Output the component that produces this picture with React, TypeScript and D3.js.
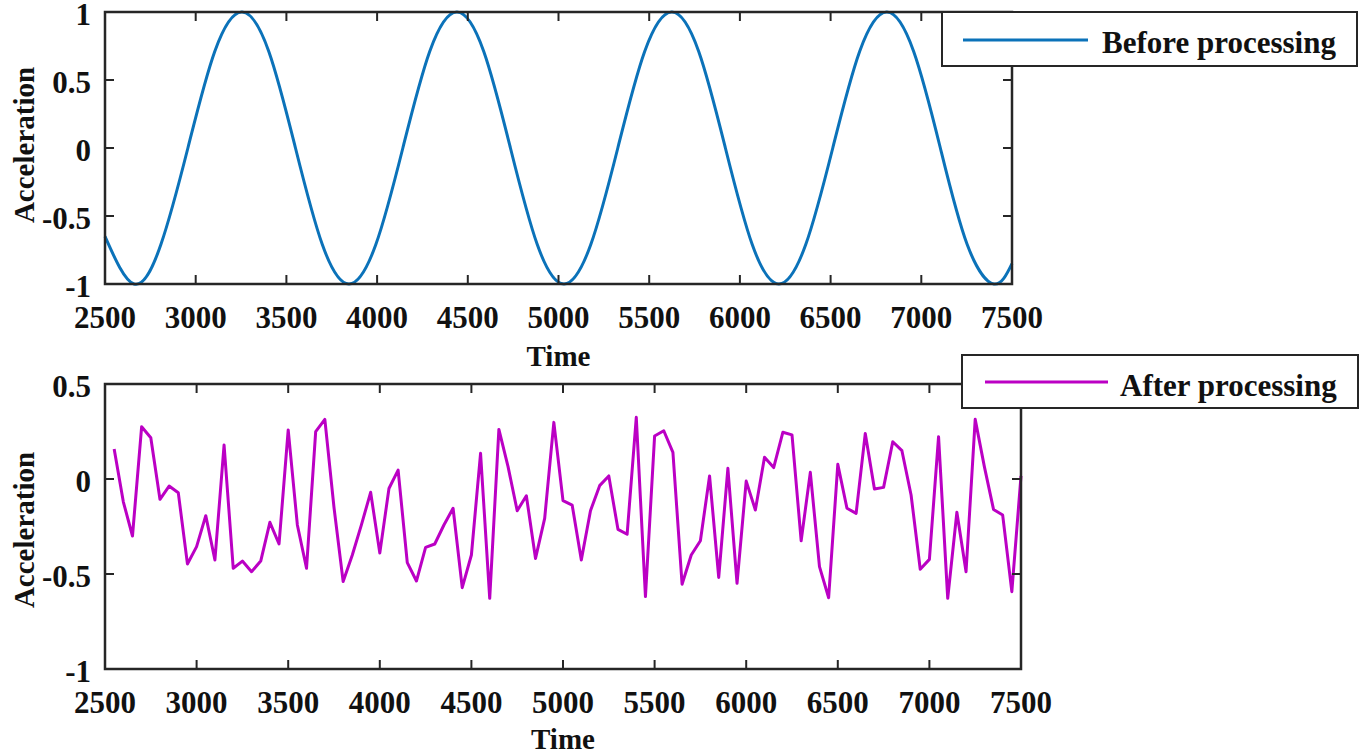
import React from 'react';
import * as d3 from 'd3';

// ---- data ----
const beforeTime = [2500, 2660, 2808, 2957, 3105, 3255, 3403, 3550, 3698, 3845, 3993, 4142, 4290, 4440, 4588, 4735, 4883, 5030, 5178, 5327, 5475, 5625, 5773, 5920, 6068, 6215, 6363, 6512, 6660, 6810, 6958, 7105, 7253, 7400, 7500];
const beforeAccel = [-0.65, -1, -0.71, 0, 0.71, 1, 0.71, 0, -0.71, -1, -0.71, 0, 0.71, 1, 0.71, 0, -0.71, -1, -0.71, 0, 0.71, 1, 0.71, 0, -0.71, -1, -0.71, 0, 0.71, 1, 0.71, 0, -0.71, -1, -0.85];

const afterTime = d3.range(2550, 7501, 50);
const afterAccel = [
  0.158, -0.12, -0.30, 0.275, 0.217, -0.107, -0.037, -0.072, -0.447, -0.356,
  -0.193, -0.426, 0.179, -0.47, -0.432, -0.488, -0.432, -0.228, -0.342, 0.258,
  -0.242, -0.47, 0.249, 0.314, -0.15, -0.54, -0.40, -0.24, -0.07, -0.39,
  -0.05, 0.047, -0.44, -0.537, -0.36, -0.342, -0.242, -0.154, -0.572, -0.40,
  0.135, -0.628, 0.261, 0.065, -0.167, -0.088, -0.418, -0.207, 0.298, -0.114,
  -0.137, -0.426, -0.167, -0.035, 0.016, -0.265, -0.291, 0.325, -0.619, 0.226,
  0.254, 0.14, -0.554, -0.40, -0.325, 0.016, -0.518, 0.056, -0.549, -0.011,
  -0.163, 0.114, 0.06, 0.246, 0.232, -0.325, 0.035, -0.461, -0.625, 0.077,
  -0.154, -0.181, 0.24, -0.053, -0.044, 0.196, 0.149, -0.084, -0.475, -0.423,
  0.223, -0.628, -0.175, -0.488, 0.314, 0.065, -0.16, -0.19, -0.593, 0.016,
];

const xTicks = [2500, 3000, 3500, 4000, 4500, 5000, 5500, 6000, 6500, 7000, 7500];
const topYTicks = [-1, -0.5, 0, 0.5, 1];
const bottomYTicks = [-1, -0.5, 0, 0.5];

const FONT = "'Liberation Serif', 'Times New Roman', serif";
const AXIS = '#262626';

type PanelProps = {
  left: number; right: number; top: number; bottom: number;
  yDomain: [number, number]; yTicks: number[];
  xs: number[]; ys: number[]; color: string; smooth: boolean;
  labelY: number; timeY: number;
  legend: { x0: number; x1: number; y0: number; y1: number; lx0: number; lx1: number; ly: number; tx: number; ty: number; text: string };
};

function Panel(p: PanelProps) {
  const x = d3.scaleLinear().domain([2500, 7500]).range([p.left, p.right]);
  const y = d3.scaleLinear().domain(p.yDomain).range([p.bottom, p.top]);
  const pts: [number, number][] = p.xs.map((t, i) => [t, p.ys[i]]);
  const line = d3.line<[number, number]>()
    .x(d => x(d[0])).y(d => y(d[1]))
    .curve(p.smooth ? d3.curveNatural : d3.curveLinear);
  const tl = 9;
  const L = p.legend;
  return (
    <g>
      <path d={line(pts) || ''} fill="none" stroke={p.color} strokeWidth={3} strokeLinejoin="round" />
      <rect x={p.left} y={p.top} width={p.right - p.left} height={p.bottom - p.top} fill="none" stroke={AXIS} strokeWidth={2.5} />
      {xTicks.map(t => (
        <g key={'x' + t}>
          <line x1={x(t)} x2={x(t)} y1={p.bottom} y2={p.bottom - tl} stroke={AXIS} strokeWidth={2} />
          <line x1={x(t)} x2={x(t)} y1={p.top} y2={p.top + tl} stroke={AXIS} strokeWidth={2} />
          <text x={x(t)} y={p.bottom + 44} textAnchor="middle" fontFamily={FONT} fontWeight="bold" fontSize={31} fill="#111">{t}</text>
        </g>
      ))}
      {p.yTicks.map(v => (
        <g key={'y' + v}>
          <line x1={p.left} x2={p.left + tl} y1={y(v)} y2={y(v)} stroke={AXIS} strokeWidth={2} />
          <line x1={p.right} x2={p.right - tl} y1={y(v)} y2={y(v)} stroke={AXIS} strokeWidth={2} />
          <text x={91} y={y(v) + 13} textAnchor="end" fontFamily={FONT} fontWeight="bold" fontSize={31} fill="#111">{String(v)}</text>
        </g>
      ))}
      <text transform={`translate(34, ${p.labelY}) rotate(-90)`} textAnchor="middle" fontFamily={FONT} fontWeight="bold" fontSize={29} fill="#111">Acceleration</text>
      <text x={(p.left + p.right) / 2} y={p.timeY} textAnchor="middle" fontFamily={FONT} fontWeight="bold" fontSize={29} fill="#111">Time</text>
      <rect x={L.x0} y={L.y0} width={L.x1 - L.x0} height={L.y1 - L.y0} fill="#fff" stroke={AXIS} strokeWidth={2} />
      <line x1={L.lx0} x2={L.lx1} y1={L.ly} y2={L.ly} stroke={p.color} strokeWidth={3} />
      <text x={L.tx} y={L.ty} fontFamily={FONT} fontWeight="bold" fontSize={31} fill="#111">{L.text}</text>
    </g>
  );
}

export default function App() {
  return (
    <svg width={1362} height={753} style={{ position: 'absolute', left: 0, top: 0, background: '#fff' }}>
      <rect x={0} y={0} width={1362} height={753} fill="#fff" />
      <Panel left={105} right={1012} top={12} bottom={284} yDomain={[-1, 1]} yTicks={topYTicks}
        xs={beforeTime} ys={beforeAccel} color="#0b72b9" smooth={true} labelY={145} timeY={366}
        legend={{ x0: 942, x1: 1357, y0: 12, y1: 66, lx0: 963, lx1: 1088, ly: 40, tx: 1102, ty: 53, text: 'Before processing' }} />
      <Panel left={105} right={1021} top={384} bottom={669} yDomain={[-1, 0.5]} yTicks={bottomYTicks}
        xs={afterTime} ys={afterAccel} color="#bb00c4" smooth={false} labelY={530} timeY={749}
        legend={{ x0: 962, x1: 1358, y0: 355, y1: 408, lx0: 985, lx1: 1108, ly: 382, tx: 1120, ty: 396, text: 'After processing' }} />
    </svg>
  );
}
